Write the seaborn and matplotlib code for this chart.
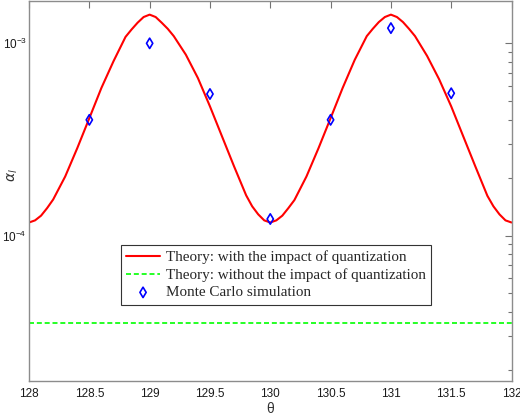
import numpy as np
import seaborn as sns
import matplotlib.pyplot as plt
from matplotlib.ticker import LogLocator, NullFormatter

# theta grid of the theory curve (finer near the peaks and dips)
theta = [128.00, 128.05, 128.10, 128.15, 128.20, 128.30, 128.40, 128.50, 128.60, 128.70,
         128.80, 128.85, 128.90, 128.95, 129.00, 129.05, 129.10, 129.15, 129.20, 129.30,
         129.40, 129.50, 129.60, 129.70, 129.80, 129.85, 129.90, 129.95, 130.00, 130.05,
         130.10, 130.15, 130.20, 130.30, 130.40, 130.50, 130.60, 130.70, 130.80, 130.85,
         130.90, 130.95, 131.00, 131.05, 131.10, 131.15, 131.20, 131.30, 131.40, 131.50,
         131.60, 131.70, 131.80, 131.85, 131.90, 131.95, 132.00]
# theory with the impact of quantization
alpha_quant = [1.17e-4, 1.20e-4, 1.27e-4, 1.39e-4, 1.54e-4, 2.03e-4, 2.85e-4, 4.08e-4, 5.86e-4, 8.06e-4,
               1.08e-3, 1.18e-3, 1.28e-3, 1.37e-3, 1.41e-3, 1.37e-3, 1.28e-3, 1.19e-3, 1.09e-3, 8.73e-4,
               6.60e-4, 4.70e-4, 3.28e-4, 2.29e-4, 1.62e-4, 1.42e-4, 1.29e-4, 1.20e-4, 1.17e-4, 1.20e-4,
               1.27e-4, 1.39e-4, 1.53e-4, 2.03e-4, 2.85e-4, 4.08e-4, 5.86e-4, 8.20e-4, 1.09e-3, 1.19e-3,
               1.29e-3, 1.37e-3, 1.41e-3, 1.37e-3, 1.29e-3, 1.19e-3, 1.09e-3, 8.60e-4, 6.50e-4, 4.70e-4,
               3.28e-4, 2.29e-4, 1.61e-4, 1.42e-4, 1.29e-4, 1.20e-4, 1.17e-4]
# theory without the impact of quantization (flat)
theta_noq = [128.0, 132.0]
alpha_noq = [3.5e-5, 3.5e-5]
# Monte Carlo simulation
theta_mc = [128.5, 129.0, 129.5, 130.0, 130.5, 131.0, 131.5]
alpha_mc = [4.0e-4, 1.0e-3, 5.45e-4, 1.22e-4, 4.0e-4, 1.2e-3, 5.5e-4]

sns.set_style('white')
plt.rcParams['font.family'] = ['Liberation Sans', 'DejaVu Sans']
plt.rcParams['axes.edgecolor'] = '0.55'
plt.rcParams['axes.linewidth'] = 1.0

fig = plt.figure(figsize=(5.2, 4.17), dpi=100)
ax = fig.add_axes([0.0558, 0.0871, 0.9279, 0.9117])
ax.set_yscale('log')

sns.lineplot(x=theta, y=alpha_quant, color='#ff0000', linewidth=1.5,
             label='Theory: with the impact of quantization', ax=ax)
sns.lineplot(x=theta_noq, y=alpha_noq, color='#00ff00', linewidth=1.2,
             label='Theory: without the impact of quantization', ax=ax)
ax.lines[-1].set_dashes([3.0, 1.7])
sns.scatterplot(x=theta_mc, y=alpha_mc, marker='d', s=28, facecolors='none',
                edgecolor='#0000ff', linewidth=1.2,
                label='Monte Carlo simulation', ax=ax, zorder=3)

ax.set_xlim(128, 132)
ax.set_ylim(1.76e-5, 1.67e-3)
ax.set_xticks([128, 128.5, 129, 129.5, 130, 130.5, 131, 131.5, 132])
ax.set_xticklabels(['128', '128.5', '129', '129.5', '130', '130.5', '131', '131.5', '132'])
ax.yaxis.set_major_locator(LogLocator(base=10))
ax.yaxis.set_minor_locator(LogLocator(base=10, subs=np.arange(2, 10)))
ax.yaxis.set_minor_formatter(NullFormatter())

ax.tick_params(which='both', direction='in', top=True, right=True,
               color='0.45', labelcolor='#1a1a1a', labelsize=8.5)
ax.tick_params(which='major', length=5, width=0.8)
ax.tick_params(which='minor', length=3, width=0.8)
ax.tick_params(axis='x', pad=5)
ax.tick_params(axis='y', pad=1.5)

ax.set_xlabel('θ', fontsize=10, color='#333333', labelpad=2)
ax.set_ylabel(r'$\alpha_l$', fontsize=10, color='#333333', va='center')
ax.yaxis.set_label_coords(-0.034, 0.54)

leg = ax.legend(loc='center', bbox_to_anchor=(0.512, 0.278), numpoints=1,
                handlelength=2.2, handletextpad=0.4, borderpad=0.35, labelspacing=0.25,
                fancybox=False, framealpha=1, edgecolor='#333333',
                prop={'family': 'Liberation Serif', 'size': 10.9})
leg.get_frame().set_linewidth(0.8)

plt.savefig('out.png', dpi=100)
